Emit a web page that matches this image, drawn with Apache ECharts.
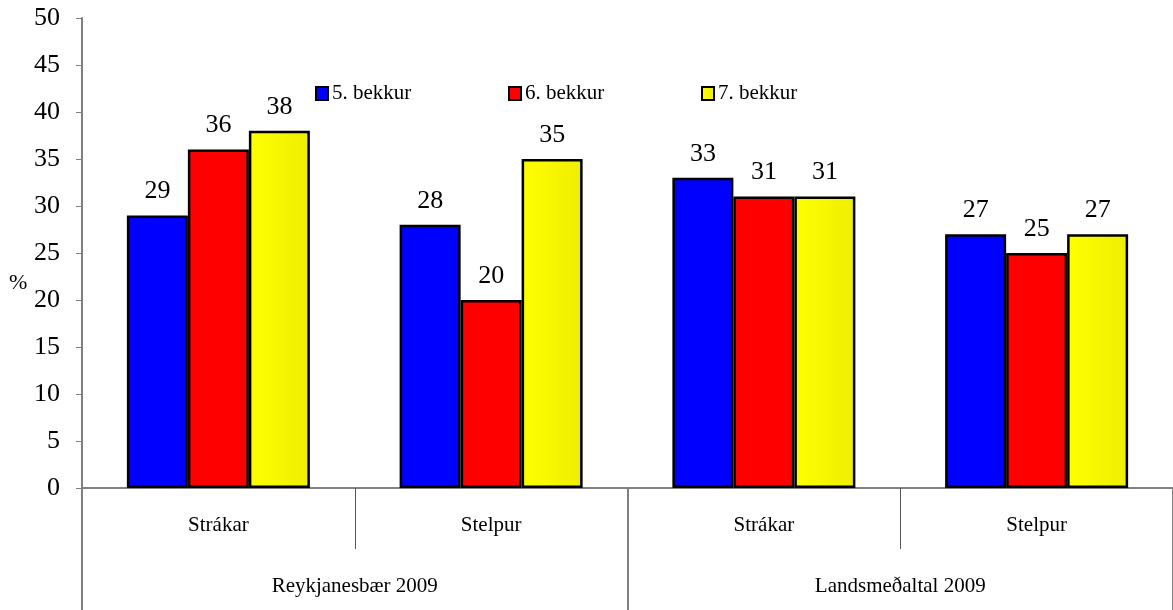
<!DOCTYPE html>
<html><head><meta charset="utf-8">
<script src="https://cdn.jsdelivr.net/npm/echarts@6/dist/echarts.min.js"></script>
<style>html,body{margin:0;padding:0;background:#fff}#c{width:1173px;height:610px}</style>
</head><body><div id="c"></div>
<script>
var subCategories = ['Strákar', 'Stelpur', 'Strákar', 'Stelpur'];
var groups = ['Reykjanesbær 2009', 'Landsmeðaltal 2009'];
var seriesNames = ['5. bekkur', '6. bekkur', '7. bekkur'];
var grade5 = [29, 28, 33, 27];
var grade6 = [36, 20, 31, 25];
var grade7 = [38, 35, 31, 27];
var yTicks = {min: 0, max: 50, interval: 5};

var FONT = 'Liberation Serif';
var fills = [
  '#0000ff',
  '#ff0000',
  {type: 'linear', x: 0, y: 0, x2: 1, y2: 0, colorStops: [{offset: 0, color: '#ffff00'}, {offset: 1, color: '#eeee00'}]}
];
var values = [grade5, grade6, grade7];

var chart = echarts.init(document.getElementById('c'));
var series = seriesNames.map(function (n, i) {
  return {
    name: n, type: 'bar', xAxisIndex: 0, yAxisIndex: 0,
    data: values[i], barWidth: 61, barGap: '0%',
    itemStyle: {color: fills[i], borderColor: '#000', borderWidth: 2.5},
    label: {show: true, position: 'top', distance: 11, color: '#000', fontFamily: FONT, fontSize: 26},
    animation: false
  };
});
var legendLefts = [310, 503, 696];
var legends = seriesNames.map(function (n, i) {
  return {
    data: [n], left: legendLefts[i], top: 78, itemWidth: 12, itemHeight: 13,
    icon: 'rect', itemGap: 0, itemStyle: {borderColor: '#000', borderWidth: 2},
    textStyle: {fontFamily: FONT, fontSize: 21, color: '#000', padding: [0, 0, 0, -1]},
    selectedMode: false
  };
});
chart.setOption({
  animation: false,
  grid: {left: 82, right: -3, top: 18, bottom: 122, containLabel: false},
  legend: legends,
  xAxis: [
    {type: 'category', data: subCategories, position: 'bottom',
     axisLine: {show: true, lineStyle: {color: '#808080', width: 2}},
     axisTick: {show: true, length: 61, lineStyle: {color: '#555', width: 1}},
     axisLabel: {margin: 27, color: '#000', fontFamily: FONT, fontSize: 21},
     splitLine: {show: false}},
    {type: 'category', data: groups, position: 'bottom', gridIndex: 0,
     axisLine: {show: false},
     axisTick: {show: true, length: 122, lineStyle: {color: '#808080', width: 2}},
     axisLabel: {margin: 88, color: '#000', fontFamily: FONT, fontSize: 21},
     splitLine: {show: false}}
  ],
  yAxis: {type: 'value', min: yTicks.min, max: yTicks.max, interval: yTicks.interval,
    axisLine: {show: true, lineStyle: {color: '#808080', width: 2}},
    axisTick: {show: true, length: 6, lineStyle: {color: '#808080', width: 1}},
    axisLabel: {margin: 22, color: '#000', fontFamily: FONT, fontSize: 26},
    splitLine: {show: false}},
  graphic: [{type: 'text', left: 9, top: 272, style: {text: '%', font: '22px "Liberation Serif"', fill: '#000'}}],
  series: series
});
</script></body></html>
